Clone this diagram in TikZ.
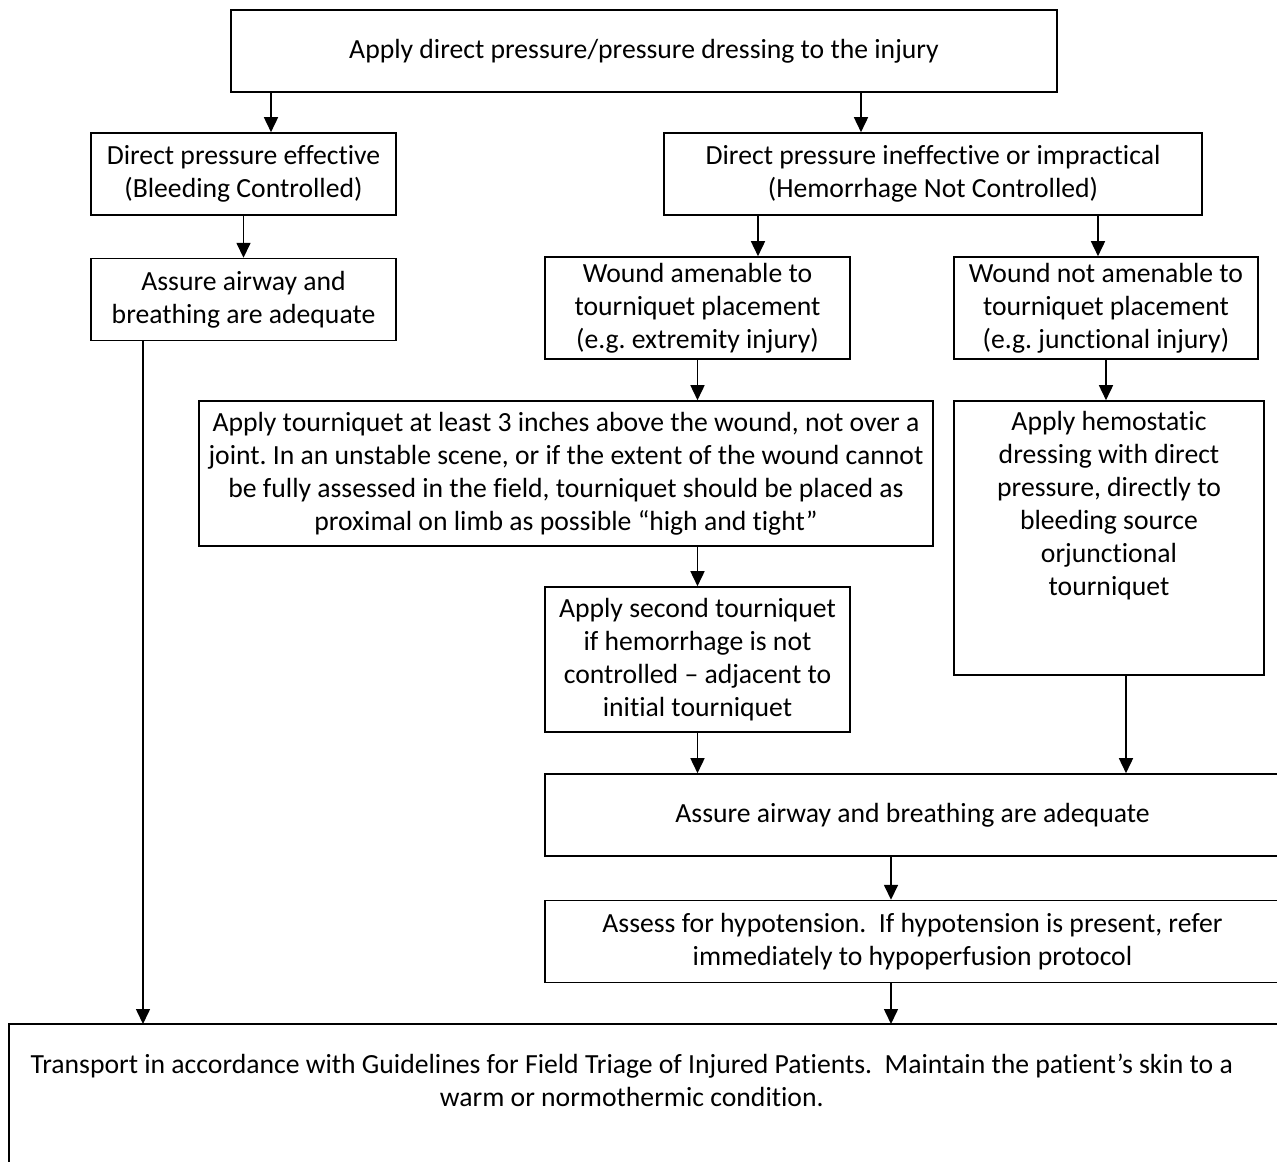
\documentclass[tikz,border=0pt]{standalone}
\usepackage{fontspec}
\setmainfont{Carlito}[Ligatures=NoCommon]
\frenchspacing
\usetikzlibrary{positioning,arrows.meta}

\begin{document}
\begin{tikzpicture}[x=0.2mm, y=-0.2mm,
				box/.style={rectangle, draw=black, line width=0.9pt, align=center, inner sep=0pt, font=\fontsize{15.75}{18.8}\selectfont},
				narrow/.style={box, minimum width=61mm},
				wide/.style={box, minimum width=147mm, minimum height=16.4mm}
			]
			\useasboundingbox (0,0) rectangle (1277,1162);
			\clip (0,0) rectangle (1277,1162);
			\node[box, minimum width=165.2mm, minimum height=16.4mm] (apply) at (644,51) {Apply direct pressure/pressure dressing to the injury};
			\node[narrow, minimum height=16.4mm] (effective) at (243.5,174) {Direct pressure effective\\(Bleeding Controlled)};
			\node[box, minimum width=107.6mm, minimum height=16.4mm] (ineffective) at (933,174) {Direct pressure ineffective or impractical\\(Hemorrhage Not Controlled)};
			\node[narrow, minimum height=16.4mm] (airway) [below=8.4mm of effective] {Assure airway and\\breathing are adequate};
			\node[narrow, minimum height=20.4mm] (amenable) at (697.5,308) {Wound amenable to\\tourniquet placement\\(e.g. extremity injury)};
			\node[box, minimum width=60.8mm, minimum height=20.4mm] (notamenable) at (1106,308) {Wound not amenable to\\tourniquet placement\\(e.g. junctional injury)};
			\node[box, minimum width=146.8mm, minimum height=29mm] (tourniquet) at (566,473.5) {Apply tourniquet at least 3 inches above the wound, not over a\\joint. In an unstable scene, or if the extent of the wound cannot\\be fully assessed in the field, tourniquet should be placed as\\proximal on limb as possible “high and tight”};
			\node[box, minimum width=62mm, minimum height=54.8mm] (hemostatic) at (1109,538) {\parbox[c][54.8mm][t]{62mm}{\centering\rule{0pt}{5.9mm}Apply hemostatic\\dressing with direct\\pressure, directly to\\bleeding source\\orjunctional\\tourniquet}};
			\node[narrow, minimum height=29mm] (second) at (697.5,659.5) {Apply second tourniquet\\if hemorrhage is not\\controlled – adjacent to\\initial tourniquet};
			\node[wide] (airwaytwo) at (912.5,815) {Assure airway and breathing are adequate};
			\node[wide] (assess) [below=8.6mm of airwaytwo] {Assess for hypotension.\ \ If hypotension is present, refer\\immediately to hypoperfusion protocol};
			\node[box, draw=none, anchor=north west, minimum width=248.8mm, minimum height=22.4mm] (transport) at (9,1024) {Transport in accordance with Guidelines for Field Triage of Injured Patients.\ \ Maintain the patient’s skin to a\\warm or normothermic condition.};
			\draw[line width=0.9pt] ([yshift=-10mm]transport.south west) -- (transport.north west) -- ++(1300,0);
			\begin{scope}[line width=0.9pt, -{Triangle[length=3mm, width=2.8mm]}]
			\draw (271,0 |- apply.south) -- (271,0 |- effective.north);
			\draw (861,0 |- apply.south) -- (861,0 |- ineffective.north);
			\draw (effective.south) -- (airway.north);
			\draw (758,0 |- ineffective.south) -- (758,0 |- amenable.north);
			\draw (1098,0 |- ineffective.south) -- (1098,0 |- notamenable.north);
			\draw (amenable.south) -- (amenable.south |- tourniquet.north);
			\draw (notamenable.south) -- (notamenable.south |- hemostatic.north);
			\draw (second.north |- tourniquet.south) -- (second.north);
			\draw (1126,0 |- hemostatic.south) -- (1126,0 |- airwaytwo.north);
			\draw (second.south) -- (second.south |- airwaytwo.north);
			\draw (891,0 |- airwaytwo.south) -- (891,0 |- assess.north);
			\draw (891,0 |- assess.south) -- (891,0 |- transport.north);
			\draw (143,0 |- airway.south) -- (143,0 |- transport.north);
			\end{scope}
\end{tikzpicture}
\end{document}
